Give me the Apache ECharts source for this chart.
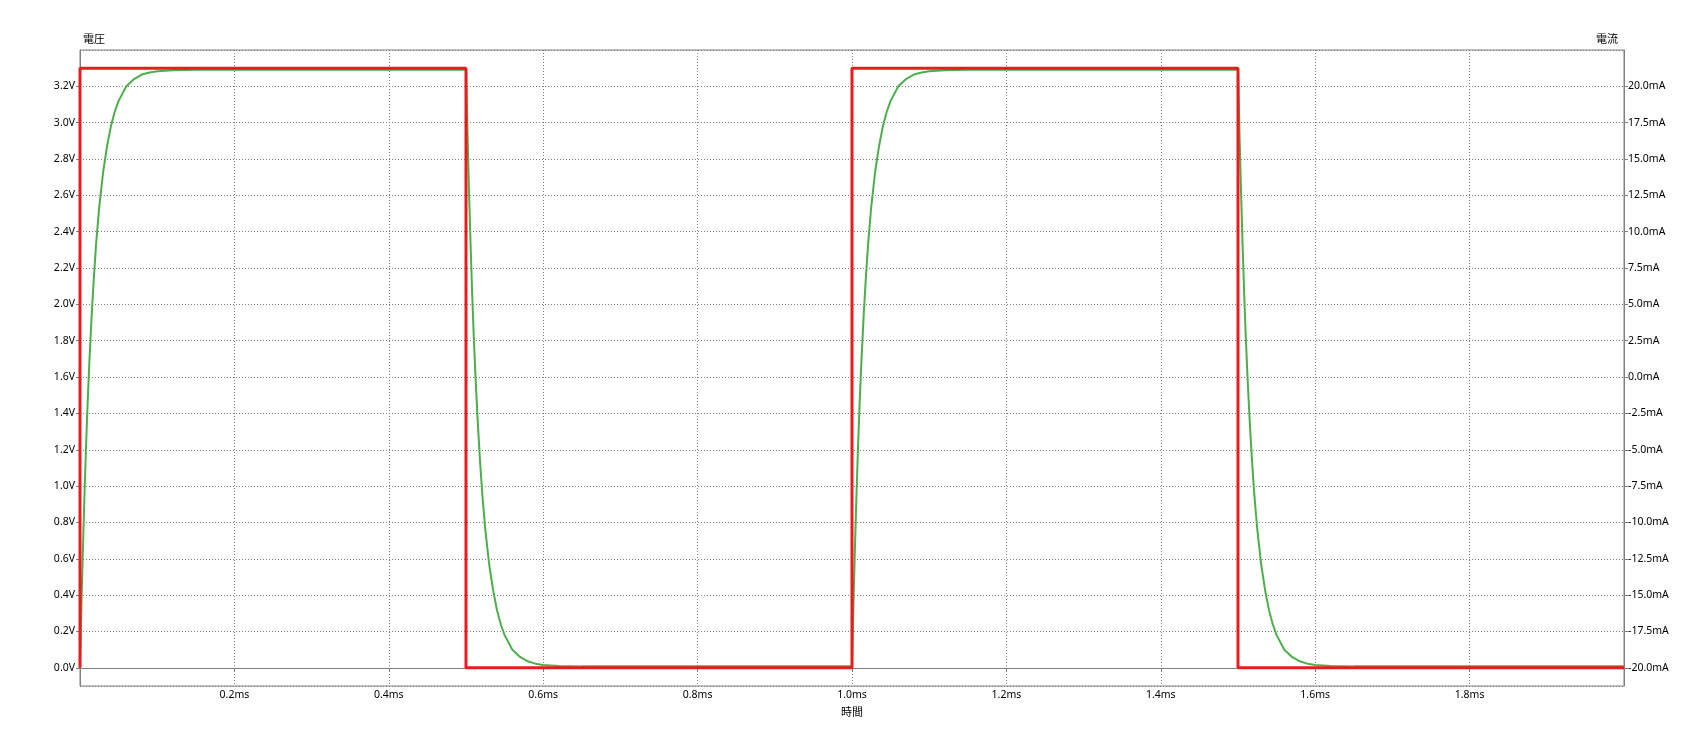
<!DOCTYPE html>
<html><head><meta charset="utf-8">
<script src="https://cdn.jsdelivr.net/npm/echarts@6/dist/echarts.min.js"></script>
<style>html,body{margin:0;padding:0;background:#fff}#c{width:1704px;height:736px}</style>
</head><body><div id="c"></div>
<script>
// Square-wave source voltage (red), time in ms, value in V
const redT = [0, 0, 0.5, 0.5, 1.0, 1.0, 1.5, 1.5, 2.0];
const redV = [0, 3.3, 3.3, 0, 0, 3.3, 3.3, 0, 0];

// RC response (green), time in ms, value in V
const greenT = [
  0, 0.002, 0.004, 0.006, 0.008, 0.010, 0.012, 0.015, 0.018, 0.021, 0.025, 0.030, 0.035, 0.040, 0.045, 0.050, 0.060, 0.070, 0.080, 0.090, 0.100, 0.120, 0.150, 0.500,
  0.502, 0.504, 0.506, 0.508, 0.510, 0.512, 0.515, 0.518, 0.521, 0.525, 0.530, 0.535, 0.540, 0.545, 0.550, 0.560, 0.570, 0.580, 0.590, 0.600, 0.620, 0.650, 1.000,
  1.002, 1.004, 1.006, 1.008, 1.010, 1.012, 1.015, 1.018, 1.021, 1.025, 1.030, 1.035, 1.040, 1.045, 1.050, 1.060, 1.070, 1.080, 1.090, 1.100, 1.120, 1.150, 1.500,
  1.502, 1.504, 1.506, 1.508, 1.510, 1.512, 1.515, 1.518, 1.521, 1.525, 1.530, 1.535, 1.540, 1.545, 1.550, 1.560, 1.570, 1.580, 1.590, 1.600, 1.620, 1.650, 2.000
];
const greenV = [
  0.00, 0.37, 0.69, 0.98, 1.24, 1.47, 1.67, 1.93, 2.15, 2.34, 2.54, 2.73, 2.87, 2.98, 3.06, 3.12, 3.20, 3.24, 3.265, 3.276, 3.283, 3.289, 3.291, 3.291,
  2.93, 2.61, 2.32, 2.06, 1.83, 1.63, 1.37, 1.15, 0.96, 0.76, 0.57, 0.43, 0.32, 0.24, 0.18, 0.10, 0.060, 0.036, 0.023, 0.016, 0.010, 0.008, 0.008,
  0.37, 0.69, 0.98, 1.24, 1.47, 1.67, 1.93, 2.15, 2.34, 2.54, 2.73, 2.87, 2.98, 3.06, 3.12, 3.20, 3.24, 3.265, 3.276, 3.283, 3.289, 3.291, 3.291,
  2.93, 2.61, 2.32, 2.06, 1.83, 1.63, 1.37, 1.15, 0.96, 0.76, 0.57, 0.43, 0.32, 0.24, 0.18, 0.10, 0.060, 0.036, 0.023, 0.016, 0.010, 0.008, 0.008
];

const leftName = '電圧';
const rightName = '電流';
const xName = '時間';

const pair = (t, v) => t.map((x, i) => [x, v[i]]);
const gray = '#808080';
const font = '"Noto Sans", "Noto Sans CJK JP", sans-serif';
const cjk = '"Noto Sans CJK JP", sans-serif';
const splitStyle = { show: true, lineStyle: { color: gray, width: 1, type: [1, 2] } };

const chart = echarts.init(document.getElementById('c'), null, { renderer: 'canvas' });
chart.setOption({
  animation: false,
  backgroundColor: '#fff',
  grid: { left: 80, right: 80, top: 50, bottom: 50, show: true, borderColor: gray, borderWidth: 1, backgroundColor: 'transparent' },
  xAxis: {
    type: 'value', min: 0, max: 2.0, minInterval: 0.2, maxInterval: 0.2,
    name: xName, nameLocation: 'middle', nameGap: 20,
    nameTextStyle: { fontFamily: cjk, fontSize: 11, color: '#000' },
    axisLine: { show: true, lineStyle: { color: gray, width: 1 } },
    axisTick: { show: true, length: 4, lineStyle: { color: gray } },
    axisLabel: { showMinLabel: false, showMaxLabel: false, margin: 4, fontFamily: font, fontSize: 10.5, color: '#000',
      formatter: v => v.toFixed(1) + 'ms' },
    splitLine: splitStyle
  },
  yAxis: [{
    type: 'value', min: -0.1, max: 3.4, minInterval: 0.2, maxInterval: 0.2, position: 'left',
    name: leftName, nameLocation: 'end', nameGap: 6,
    nameTextStyle: { fontFamily: cjk, fontSize: 11, color: '#000', align: 'left', padding: [0, 0, 0, 3] },
    axisLine: { show: true, lineStyle: { color: gray, width: 1 } },
    axisTick: { show: true, length: 4, lineStyle: { color: gray } },
    axisLabel: { showMinLabel: false, showMaxLabel: false, margin: 5, fontFamily: font, fontSize: 10.5, color: '#000',
      formatter: v => v.toFixed(1) + 'V' },
    splitLine: splitStyle
  }, {
    type: 'value', min: -21.25, max: 22.5, minInterval: 2.5, maxInterval: 2.5, position: 'right',
    name: rightName, nameLocation: 'end', nameGap: 6,
    nameTextStyle: { fontFamily: cjk, fontSize: 11, color: '#000', align: 'right', padding: [0, 6, 0, 0] },
    axisLine: { show: true, lineStyle: { color: gray, width: 1 } },
    axisTick: { show: true, length: 4, lineStyle: { color: gray } },
    axisLabel: { showMinLabel: false, showMaxLabel: false, margin: 4, fontFamily: font, fontSize: 10.5, color: '#000',
      formatter: v => v.toFixed(1) + 'mA' },
    splitLine: { show: false }
  }],
  series: [{
    type: 'line', yAxisIndex: 0, data: pair(greenT, greenV), showSymbol: false, symbol: 'none',
    lineStyle: { color: '#4caf4c', width: 2 }, z: 2
  }, {
    type: 'line', yAxisIndex: 0, data: pair(redT, redV), showSymbol: false, symbol: 'none',
    lineStyle: { color: '#e81c1c', width: 3 }, z: 3
  }]
});
</script></body></html>
